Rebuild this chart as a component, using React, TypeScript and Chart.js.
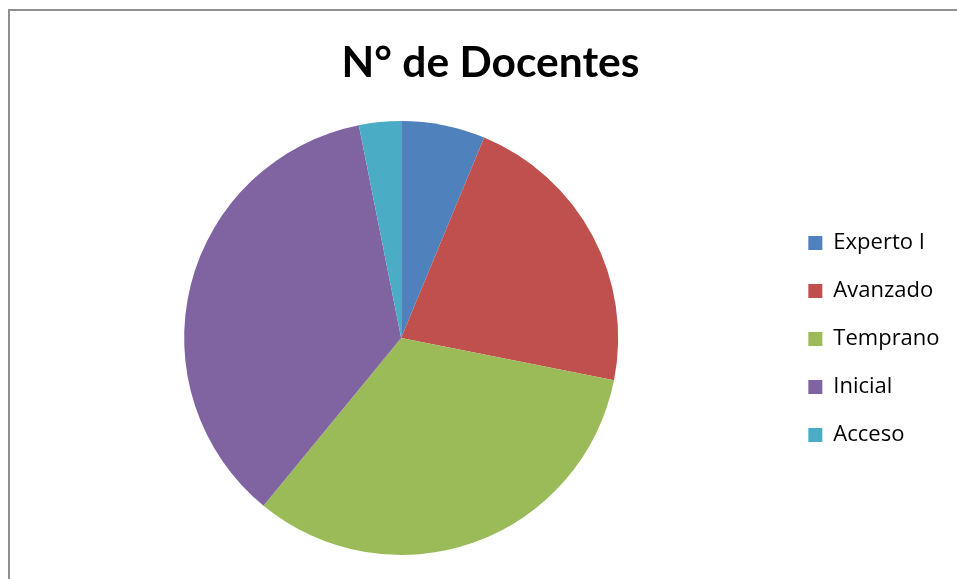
import React, { useEffect, useRef } from "react";
import { Chart, registerables } from "chart.js";

Chart.register(...registerables);

const title = "N° de Docentes";
const categories = ["Experto I", "Avanzado", "Temprano", "Inicial", "Acceso"];
const docentes = [4, 14, 21, 23, 2];
const colors = ["#4F81BD", "#C0504D", "#9BBB59", "#8064A2", "#4BACC6"];

export default function App() {
  const canvasRef = useRef<HTMLCanvasElement | null>(null);

  useEffect(() => {
    if (!canvasRef.current) return;
    const chart = new Chart(canvasRef.current, {
      type: "pie",
      data: {
        labels: categories,
        datasets: [
          {
            data: docentes,
            backgroundColor: colors,
            borderWidth: 0,
          },
        ],
      },
      options: {
        animation: false,
        responsive: false,
        maintainAspectRatio: false,
        layout: { padding: { left: 20, right: 9, top: 0, bottom: 24 } },
        plugins: {
          title: {
            display: true,
            text: title,
            color: "#000",
            font: { family: "Lato", size: 42.5, weight: "bold" },
            padding: { top: 37.5, bottom: 32.5 },
          },
          legend: {
            position: "right",
            align: "center",
            title: {
              display: true,
              text: "",
              font: { size: 10 },
              padding: { top: 111, bottom: 0 },
            },
            labels: {
              color: "#000",
              font: { family: "Open Sans", size: 22 },
              boxWidth: 14,
              boxHeight: 14,
              padding: 26,
              generateLabels: (chart: any) =>
                Chart.overrides.pie.plugins.legend.labels
                  .generateLabels(chart)
                  .map((item: any) => ({ ...item, text: item.text + "\u00a0\u00a0" })),
            },
          },
          tooltip: { enabled: false },
        },
      },
    });
    return () => chart.destroy();
  }, []);

  return (
    <div style={{ position: "absolute", left: 0, top: 0, width: 957, height: 579, overflow: "hidden", background: "#fff" }}>
      <div
        style={{
          position: "absolute",
          left: 8,
          top: 9,
          width: 1000,
          height: 600,
          borderLeft: "2px solid #8e8e8e",
          borderTop: "2px solid #8e8e8e",
        }}
      />
      <canvas ref={canvasRef} width={970} height={579} style={{ position: "absolute", left: 0, top: 0 }} />
    </div>
  );
}
